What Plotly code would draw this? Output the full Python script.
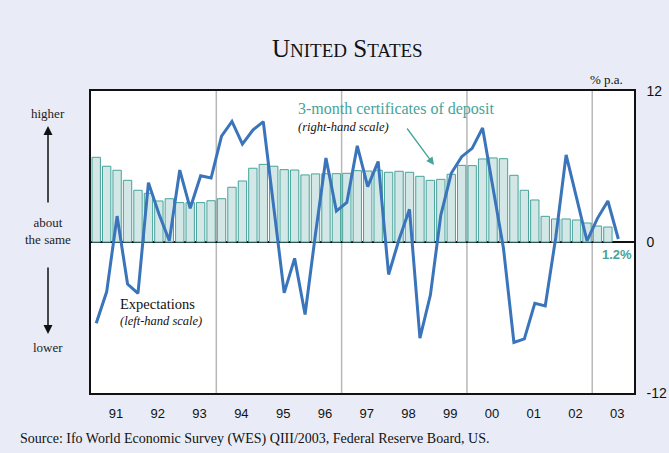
import plotly.graph_objects as go

# ---------------- data ----------------
start_year = 1991
year_labels = ["91", "92", "93", "94", "95", "96", "97", "98", "99", "00", "01", "02", "03"]

# 3-month certificates of deposit, % p.a., quarterly 1991Q1 - 2003Q2 (right-hand scale)
cd_rate = [6.73, 6.02, 5.70, 4.90, 4.11, 3.87, 3.26, 3.44, 3.13, 3.13,
           3.13, 3.28, 3.44, 4.35, 4.85, 5.86, 6.17, 6.02, 5.75, 5.72,
           5.33, 5.41, 5.43, 5.43, 5.46, 5.67, 5.64, 5.70, 5.54, 5.62,
           5.54, 5.22, 4.90, 4.98, 5.38, 6.09, 6.07, 6.60, 6.68, 6.62,
           5.30, 4.11, 3.34, 2.04, 1.83, 1.83, 1.75, 1.51, 1.27, 1.19]

# WES expectations for short-term interest rates, quarterly 1991Q1 - 2003Q3 (left-hand scale)
expectations = [-32.3, -19.8, 10.3, -16.7, -20.4, 23.6, 11.2, 0.5, 28.6, 13.4,
                26.3, 25.4, 42.1, 47.9, 38.9, 44.5, 47.8, 12.8, -20.2, -6.5,
                -28.8, 3.3, 33.4, 12.3, 15.7, 38.2, 22.0, 32.0, -12.9, 1.0,
                13.0, -38.2, -21.1, 10.7, 27.3, 33.9, 37.2, 45.3, 22.0, -2.5,
                -39.9, -38.5, -24.4, -25.4, 1.6, 34.6, 17.5, 0.4, 9.4, 16.3,
                1.2]

right_ticks = [12, 0, -12]
right_tick_text = ["12", "0", "-12"]
divider_years = [1994, 1997, 2000, 2003]

# ---------------- styling ----------------
BG = "#e9ecf6"
TEAL = "#46a39b"
BAR_FILL = "#d3e8e6"
LINE_BLUE = "#3a74ba"
SERIF = "Liberation Serif"
SANS = "Liberation Sans"

x_bars = [start_year + (i + 0.5) / 4 for i in range(len(cd_rate))]
x_line = [start_year + (i + 0.5) / 4 for i in range(len(expectations))]
year_label_pos = [start_year + k + 0.6 for k in range(len(year_labels))]

fig = go.Figure()

fig.add_trace(go.Bar(
    x=x_bars, y=cd_rate, yaxis="y",
    marker=dict(color=BAR_FILL, line=dict(color=TEAL, width=1)),
    width=0.2, hoverinfo="skip", showlegend=False,
))

fig.add_trace(go.Scatter(
    x=x_line, y=expectations, yaxis="y2", mode="lines",
    line=dict(color=LINE_BLUE, width=3), hoverinfo="skip", showlegend=False,
))

shapes = []
for yr in divider_years:
    shapes.append(dict(type="line", xref="x", yref="paper", x0=yr, x1=yr, y0=0, y1=1,
                       line=dict(color="#b8b8b8", width=1.5), layer="below"))

def px_x(px):
    return (px - 91) / 543

def px_y(py):
    return (393 - py) / 302

annotations = [
    # title in small caps
    dict(text=("U<span style='font-size:19px'>NITED</span> "
               "S<span style='font-size:19px'>TATES</span>"),
         xref="paper", yref="paper", x=px_x(347), y=px_y(48),
         showarrow=False, font=dict(family=SERIF, size=25, color="#111"),
         xanchor="center", yanchor="middle"),
    dict(text="% p.a.", xref="paper", yref="paper", x=px_x(606), y=px_y(79),
         showarrow=False, font=dict(family=SERIF, size=13, color="#111"),
         xanchor="center", yanchor="middle"),
    # left side scale words
    dict(text="higher", xref="paper", yref="paper", x=px_x(48), y=px_y(113),
         showarrow=False, font=dict(family=SERIF, size=13, color="#222"),
         xanchor="center", yanchor="middle"),
    dict(text="about<br>the same", xref="paper", yref="paper", x=px_x(48), y=px_y(231),
         showarrow=False, font=dict(family=SERIF, size=13, color="#222"),
         xanchor="center", yanchor="middle"),
    dict(text="lower", xref="paper", yref="paper", x=px_x(48), y=px_y(347),
         showarrow=False, font=dict(family=SERIF, size=13, color="#222"),
         xanchor="center", yanchor="middle"),
    dict(text="", xref="paper", yref="paper", x=px_x(48), y=px_y(126),
         ax=0, ay=78, axref="pixel", ayref="pixel", showarrow=True,
         arrowhead=2, arrowsize=1.2, arrowwidth=1.5, arrowcolor="#111"),
    dict(text="", xref="paper", yref="paper", x=px_x(48), y=px_y(334),
         ax=0, ay=-68, axref="pixel", ayref="pixel", showarrow=True,
         arrowhead=2, arrowsize=1.2, arrowwidth=1.5, arrowcolor="#111"),
    # series labels
    dict(text="3-month certificates of deposit", xref="paper", yref="paper",
         x=px_x(296), y=px_y(109), showarrow=False,
         font=dict(family=SERIF, size=16, color=TEAL), xanchor="left", yanchor="middle"),
    dict(text="<i>(right-hand scale)</i>", xref="paper", yref="paper",
         x=px_x(296), y=px_y(127), showarrow=False,
         font=dict(family=SERIF, size=12.5, color="#111"), xanchor="left", yanchor="middle"),
    dict(text="", xref="paper", yref="paper", x=px_x(434), y=px_y(165),
         ax=-28, ay=-38, axref="pixel", ayref="pixel", showarrow=True,
         arrowhead=2, arrowsize=1.2, arrowwidth=1.3, arrowcolor=TEAL),
    dict(text="Expectations", xref="paper", yref="paper",
         x=px_x(118), y=px_y(304), showarrow=False,
         font=dict(family=SERIF, size=14.5, color="#111"), xanchor="left", yanchor="middle"),
    dict(text="<i>(left-hand scale)</i>", xref="paper", yref="paper",
         x=px_x(118), y=px_y(321), showarrow=False,
         font=dict(family=SERIF, size=12.5, color="#111"), xanchor="left", yanchor="middle"),
    dict(text="<b>1.2%</b>", xref="paper", yref="paper",
         x=px_x(617), y=px_y(254), showarrow=False,
         font=dict(family=SANS, size=13, color=TEAL), xanchor="center", yanchor="middle"),
    # source
    dict(text="Source: Ifo World Economic Survey (WES) QIII/2003, Federal Reserve Board, US.",
         xref="paper", yref="paper", x=px_x(18), y=px_y(439),
         showarrow=False, font=dict(family=SERIF, size=14, color="#111"),
         xanchor="left", yanchor="middle"),
]

fig.update_layout(
    width=669, height=453,
    margin=dict(l=91, r=35, t=91, b=60),
    paper_bgcolor=BG, plot_bgcolor="white",
    bargap=0.2,
    shapes=shapes, annotations=annotations,
    xaxis=dict(range=[start_year, start_year + len(year_labels)], automargin=False,
               tickmode="array", tickvals=year_label_pos, ticktext=year_labels,
               showgrid=False, zeroline=False,
               showline=True, linecolor="#111", linewidth=1.5, mirror=True,
               ticks="outside", ticklen=8, tickcolor="rgba(0,0,0,0)",
               tickfont=dict(family=SANS, size=13, color="#111")),
    yaxis=dict(range=[-12, 12], side="right", automargin=False,
               tickmode="array", tickvals=right_ticks, ticktext=right_tick_text,
               showgrid=False, zeroline=True, zerolinecolor="#111", zerolinewidth=1.5,
               showline=True, linecolor="#111", linewidth=1.5, mirror=True,
               ticks="outside", ticklen=8, tickcolor="rgba(0,0,0,0)",
               tickfont=dict(family=SANS, size=14, color="#111")),
    yaxis2=dict(range=[-60, 60], overlaying="y", side="left", automargin=False,
                showticklabels=False, showgrid=False, zeroline=False, showline=False),
)

fig.write_html("out.html", config={"displayModeBar": False},
               post_script="document.body.style.margin='0';document.body.style.overflow='hidden';")
